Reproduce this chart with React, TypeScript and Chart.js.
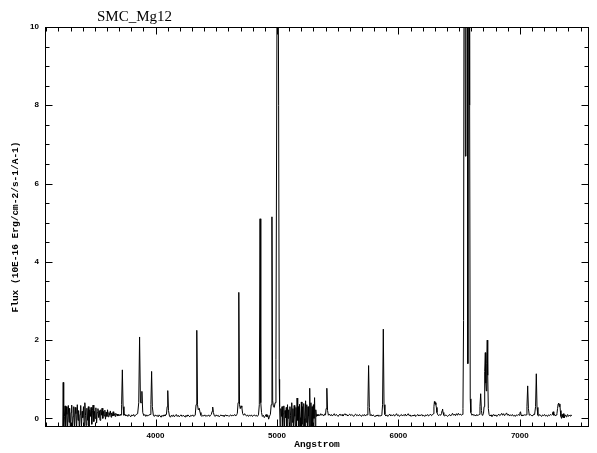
import { useEffect, useRef } from "react";
import { Chart, registerables } from "chart.js";

Chart.register(...registerables);

// Labels
const plotTitle = "SMC_Mg12";
const xAxisTitle = "Angstrom";
const yAxisTitle = "Flux (10E-16 Erg/cm-2/s-1/A-1)";

// Axis ranges and tick marks
const xRange = [3090, 7570];
const yRange = [-0.22, 10];
const xMajorTicks = [4000, 5000, 6000, 7000];
const yMajorTicks = [0, 2, 4, 6, 8, 10];
const xMinorStep = 100;
const yMinorStep = 0.5;

// Spectrum, [wavelength (A), flux] pairs, blue to red
const blueNoise: [number, number][] = [
  [3236, -0.3], [3240, 0.92], [3244, -0.3], [3250, 0.05], [3255, 0.32], [3260, -0.3], [3266, 0.3],
  [3271, 0.1], [3276, -0.28], [3282, 0.33], [3288, -0.1], [3293, 0.26], [3299, -0.3], [3305, 0.15],
  [3310, 0.34], [3316, -0.25], [3322, 0.05], [3327, 0.3], [3333, -0.3], [3339, 0.28], [3345, 0.12],
  [3350, -0.3], [3356, 0.35], [3362, -0.05], [3367, 0.2], [3373, -0.3], [3379, 0.1], [3384, 0.33],
  [3390, -0.22], [3396, 0.18], [3401, 0.02], [3407, 0.3], [3413, -0.25], [3418, 0.4], [3424, 0.08],
  [3430, -0.18], [3435, 0.26], [3441, -0.05], [3447, 0.3], [3452, -0.3], [3458, 0.22], [3464, 0.05],
  [3469, 0.28], [3475, -0.15], [3481, 0.2], [3486, 0.34], [3492, -0.08], [3498, 0.18], [3503, 0.0],
  [3509, 0.27], [3515, -0.12], [3520, 0.15], [3526, 0.25], [3532, 0.02], [3537, 0.2], [3543, -0.05],
  [3549, 0.22], [3554, 0.08], [3560, 0.26], [3566, 0.0], [3571, 0.18], [3577, 0.06], [3583, 0.21],
  [3588, -0.02], [3594, 0.16], [3600, 0.05], [3605, 0.22], [3611, 0.04], [3617, 0.15], [3622, 0.08],
  [3628, 0.19], [3634, 0.03], [3639, 0.14], [3645, 0.06], [3651, 0.17], [3656, 0.07], [3662, 0.12],
  [3668, 0.05], [3673, 0.13], [3679, 0.08], [3685, 0.11], [3690, 0.06], [3696, 0.1], [3702, 0.07],
  [3708, 0.1], [3713, 0.08],
];

const violetLines: [number, number][] = [
  [3716, 0.09], [3721, 0.35], [3727, 1.24], [3733, 0.3], [3740, 0.08], [3748, 0.11], [3756, 0.06],
  [3764, 0.09], [3772, 0.05], [3780, 0.1], [3788, 0.07], [3796, 0.04], [3804, 0.09], [3812, 0.06],
  [3820, 0.1], [3828, 0.05], [3836, 0.08], [3845, 0.11], [3853, 0.12], [3862, 0.4], [3869, 2.08],
  [3876, 0.4], [3881, 0.4], [3888, 0.69], [3895, 0.15], [3904, 0.07], [3912, 0.1], [3920, 0.05],
  [3928, 0.09], [3936, 0.06], [3944, 0.08], [3955, 0.1], [3962, 0.35], [3968, 1.2], [3974, 0.3],
  [3982, 0.08], [3990, 0.05], [3998, 0.09], [4006, 0.06],
];

const blueLines: [number, number][] = [
  [4014, 0.08], [4022, 0.04], [4030, 0.09], [4038, 0.06], [4046, 0.03], [4054, 0.08], [4062, 0.05],
  [4070, 0.09], [4078, 0.06], [4084, 0.1], [4090, 0.1], [4096, 0.3], [4101, 0.71], [4107, 0.2],
  [4115, 0.06], [4123, 0.03], [4131, 0.08], [4139, 0.05], [4147, 0.09], [4155, 0.04], [4163, 0.07],
  [4171, 0.1], [4179, 0.05], [4187, 0.08], [4195, 0.04], [4203, 0.07], [4211, 0.09], [4219, 0.05],
  [4227, 0.08], [4235, 0.06], [4243, 0.04], [4251, 0.08], [4259, 0.05], [4267, 0.09], [4275, 0.06],
  [4283, 0.04], [4291, 0.08], [4299, 0.06], [4307, 0.09], [4315, 0.05], [4321, 0.07], [4327, 0.08],
  [4334, 0.35], [4340, 2.25], [4346, 0.35], [4352, 0.22], [4360, 0.26], [4367, 0.15], [4374, 0.08],
  [4382, 0.05], [4390, 0.08], [4398, 0.06], [4406, 0.09], [4414, 0.05], [4422, 0.07], [4430, 0.06],
  [4438, 0.09], [4446, 0.05], [4453, 0.08], [4460, 0.1], [4466, 0.18], [4471, 0.29], [4477, 0.15],
  [4484, 0.07], [4492, 0.05], [4500, 0.09], [4508, 0.06], [4516, 0.08], [4524, 0.04], [4532, 0.07],
  [4540, 0.09], [4548, 0.06], [4556, 0.08], [4564, 0.05], [4572, 0.07], [4580, 0.09], [4588, 0.06],
  [4596, 0.08], [4604, 0.05], [4612, 0.07], [4620, 0.09], [4628, 0.06], [4636, 0.08], [4644, 0.07],
  [4652, 0.1], [4660, 0.06], [4668, 0.09], [4674, 0.13], [4680, 0.4], [4686, 3.22], [4692, 0.35],
  [4698, 0.25], [4705, 0.32], [4711, 0.28], [4718, 0.12],
];

const greenLines: [number, number][] = [
  [4726, 0.08], [4734, 0.12], [4742, 0.08], [4750, 0.06], [4758, 0.09], [4766, 0.05], [4774, 0.08],
  [4782, 0.06], [4790, 0.09], [4798, 0.05], [4806, 0.07], [4814, 0.09], [4822, 0.06], [4830, 0.08],
  [4838, 0.05], [4848, 0.09], [4855, 0.35], [4861, 5.1], [4867, 0.4], [4873, 0.15], [4880, 0.05],
  [4888, 0.08], [4896, 0.02], [4904, 0.06], [4911, 0.1], [4918, 0.04], [4925, 0.08], [4932, -0.02],
  [4939, 0.06], [4946, 0.1], [4953, 0.35], [4959, 5.15], [4965, 0.45], [4971, 0.3], [4978, 0.28],
  [4985, 0.4], [4992, 1.5], [5000, 10.0], [5007, 15.0], [5014, 8.0], [5019, 1.0], [5022, 0.3],
];

const greenNoise: [number, number][] = [
  [5027, -0.3], [5032, 0.25], [5037, 0.05], [5042, 0.3], [5047, -0.25], [5052, 0.12], [5057, 0.32],
  [5062, -0.3], [5067, 0.2], [5072, 0.02], [5077, 0.28], [5082, -0.3], [5087, 0.35], [5092, 0.0],
  [5097, 0.22], [5102, -0.28], [5107, 0.3], [5112, 0.08], [5117, -0.3], [5122, 0.4], [5127, -0.1],
  [5132, 0.25], [5137, -0.3], [5142, 0.33], [5147, 0.05], [5152, -0.22], [5157, 0.28], [5162, -0.3],
  [5166, 0.52], [5171, -0.05], [5176, 0.3], [5181, -0.3], [5186, 0.36], [5191, 0.02], [5196, -0.3],
  [5201, 0.42], [5206, -0.15], [5211, 0.3], [5216, -0.3], [5221, 0.38], [5226, 0.0], [5231, -0.3],
  [5236, 0.45], [5241, -0.1], [5246, 0.35], [5251, -0.3], [5256, 0.3], [5261, 0.05], [5266, -0.3],
  [5270, 0.77], [5275, -0.3], [5280, 0.4], [5285, -0.2], [5290, 0.3], [5295, -0.3], [5300, 0.35],
  [5305, 0.0], [5310, 0.53], [5315, -0.3], [5320, 0.22], [5325, 0.05], [5330, 0.1],
];

const yellowLines: [number, number][] = [
  [5337, 0.06], [5345, 0.1], [5353, 0.07], [5361, 0.12], [5369, 0.08], [5377, 0.1], [5385, 0.06],
  [5393, 0.11], [5400, 0.09], [5405, 0.25], [5411, 0.77], [5417, 0.2], [5424, 0.08], [5432, 0.11],
  [5440, 0.07], [5448, 0.1], [5456, 0.06], [5464, 0.09], [5472, 0.12], [5480, 0.07], [5488, 0.1],
  [5496, 0.08], [5504, 0.05], [5512, 0.09], [5520, 0.11], [5528, 0.07], [5536, 0.1], [5544, 0.06],
  [5552, 0.09], [5560, 0.12], [5568, 0.08], [5576, 0.1], [5584, 0.06], [5592, 0.09], [5600, 0.11],
  [5608, 0.07], [5616, 0.1], [5624, 0.08], [5632, 0.05], [5640, 0.09], [5648, 0.11], [5656, 0.07],
  [5664, 0.09], [5672, 0.06], [5680, 0.1], [5688, 0.08], [5696, 0.05], [5704, 0.09], [5712, 0.07],
  [5720, 0.1], [5728, 0.06], [5735, 0.09], [5742, 0.09], [5749, 0.3], [5755, 1.35], [5761, 0.28],
  [5768, 0.07], [5776, 0.1], [5784, 0.06], [5792, 0.09], [5800, 0.07], [5808, 0.04], [5816, 0.08],
  [5824, 0.06], [5832, 0.09], [5840, 0.05], [5848, 0.08], [5856, 0.06], [5864, 0.08], [5870, 0.35],
  [5876, 2.28], [5882, 0.35], [5889, 0.1], [5897, 0.06], [5905, 0.09], [5913, 0.05], [5921, 0.08],
  [5929, 0.11], [5937, 0.06], [5945, 0.09], [5953, 0.07], [5961, 0.1], [5969, 0.06], [5977, 0.08],
  [5985, 0.12], [5993, 0.07], [6001, 0.09], [6009, 0.05], [6017, 0.08], [6025, 0.1], [6033, 0.06],
  [6041, 0.09], [6049, 0.07], [6057, 0.11], [6065, 0.06], [6073, 0.09], [6081, 0.12], [6089, 0.07],
  [6097, 0.09], [6105, 0.05], [6113, 0.08], [6121, 0.06], [6129, 0.09], [6137, 0.07], [6145, 0.05],
  [6153, 0.08], [6161, 0.1], [6169, 0.06], [6177, 0.09], [6185, 0.07], [6193, 0.1], [6201, 0.06],
  [6209, 0.08], [6217, 0.05], [6225, 0.09], [6233, 0.07], [6241, 0.1], [6249, 0.06], [6257, 0.08],
  [6265, 0.11], [6273, 0.07], [6281, 0.09], [6288, 0.12], [6293, 0.3], [6297, 0.43], [6301, 0.38],
  [6305, 0.4], [6309, 0.35], [6313, 0.28], [6318, 0.15], [6325, 0.09], [6333, 0.07], [6341, 0.1],
  [6349, 0.08], [6355, 0.12], [6360, 0.2], [6364, 0.24], [6368, 0.15], [6374, 0.08], [6382, 0.06],
  [6390, 0.09], [6398, 0.07], [6406, 0.05], [6414, 0.08], [6422, 0.1], [6430, 0.06], [6438, 0.09],
  [6446, 0.13], [6454, 0.08], [6462, 0.11], [6470, 0.07], [6478, 0.12], [6486, 0.08], [6494, 0.13],
  [6502, 0.09], [6510, 0.11], [6518, 0.08],
];

const hAlphaBlend: [number, number][] = [
  [6526, 0.1], [6532, 0.25], [6537, 2.5], [6541, 12.0], [6546, 15.0], [6552, 6.7], [6557, 15.0],
  [6562, 22.0], [6567, 14.0], [6572, 1.4], [6577, 14.0], [6582, 18.0], [6587, 8.0], [6592, 0.5],
  [6597, 0.15],
];

const redLines: [number, number][] = [
  [6606, 0.08], [6614, 0.11], [6622, 0.07], [6630, 0.09], [6638, 0.06], [6646, 0.1], [6654, 0.07],
  [6660, 0.09], [6666, 0.1], [6672, 0.3], [6678, 0.63], [6684, 0.2], [6690, 0.08], [6696, 0.09],
  [6701, 0.12], [6706, 0.3], [6711, 1.2], [6716, 1.68], [6720, 0.9], [6724, 0.7], [6728, 1.4],
  [6732, 2.0], [6736, 1.1], [6741, 0.25], [6747, 0.1], [6755, 0.06], [6763, 0.09], [6771, 0.05],
  [6779, 0.08], [6787, 0.1], [6795, 0.06], [6803, 0.09], [6811, 0.05], [6819, 0.08], [6827, 0.11],
  [6835, 0.07], [6843, 0.09], [6851, 0.13], [6859, 0.08], [6867, 0.12], [6875, 0.07], [6883, 0.1],
  [6891, 0.14], [6899, 0.08], [6907, 0.11], [6915, 0.06], [6923, 0.09], [6931, 0.07], [6939, 0.1],
  [6947, 0.06], [6955, 0.08], [6963, 0.05], [6971, 0.09], [6979, 0.07], [6987, 0.1], [6995, 0.08],
  [7001, 0.14], [7006, 0.17], [7011, 0.09], [7018, 0.06], [7026, 0.09], [7034, 0.07], [7042, 0.1],
  [7047, 0.08], [7052, 0.09], [7059, 0.3], [7065, 0.83], [7071, 0.25], [7078, 0.08], [7086, 0.1],
  [7094, 0.08], [7102, 0.06], [7110, 0.09], [7116, 0.11], [7122, 0.1], [7130, 0.3], [7136, 1.14],
  [7142, 0.28], [7149, 0.08], [7156, 0.06], [7164, 0.1], [7172, 0.07], [7180, 0.05], [7188, 0.09],
  [7196, 0.07], [7204, 0.1], [7212, 0.06], [7220, 0.08], [7228, 0.05], [7236, 0.09], [7244, 0.07],
  [7252, 0.1], [7260, 0.08], [7266, 0.1], [7270, 0.14], [7275, 0.17], [7280, 0.08], [7287, 0.1],
  [7294, 0.06], [7300, 0.09], [7306, 0.12], [7311, 0.25], [7316, 0.37], [7320, 0.39], [7325, 0.3],
  [7330, 0.37], [7334, 0.2], [7339, 0.05], [7344, 0.0], [7349, 0.1], [7354, 0.03], [7359, 0.12],
  [7364, 0.01], [7370, 0.06], [7376, 0.09], [7382, 0.04], [7388, 0.07], [7394, 0.1], [7400, 0.05],
  [7407, 0.08], [7414, 0.06], [7421, 0.09], [7428, 0.07],
];

const spectrumSegments = [
  blueNoise, violetLines, blueLines, greenLines, greenNoise, yellowLines, hAlphaBlend, redLines,
];

const ink = "#000000";
const tickFont = { family: "'Liberation Sans', Arial, sans-serif", size: 8, weight: "bold" as const };
const axisTitleFont = {
  family: "'Liberation Mono', 'DejaVu Sans Mono', monospace",
  size: 9.5,
  weight: "bold" as const,
};

// Plot box with inward major/minor tick marks on all four sides, plus the title
const framePlugin = {
  id: "frame",
  afterDatasetsDraw(chart: Chart) {
    const { ctx, chartArea } = chart;
    const xs = chart.scales.x;
    const ys = chart.scales.y;
    const left = Math.round(chartArea.left) + 0.5;
    const right = Math.round(chartArea.right) - 0.5;
    const top = Math.round(chartArea.top) + 0.5;
    const bottom = Math.round(chartArea.bottom) - 0.5;
    ctx.save();
    ctx.strokeStyle = ink;
    ctx.lineWidth = 1;
    ctx.strokeRect(left, top, right - left, bottom - top);
    ctx.beginPath();
    const firstX = Math.ceil(xRange[0] / xMinorStep) * xMinorStep;
    for (let v = firstX; v <= xRange[1]; v += xMinorStep) {
      const len = xMajorTicks.includes(v) ? 7 : 4;
      const px = Math.round(xs.getPixelForValue(v)) + 0.5;
      ctx.moveTo(px, bottom);
      ctx.lineTo(px, bottom - len);
      ctx.moveTo(px, top);
      ctx.lineTo(px, top + len);
    }
    for (let v = 0; v <= yRange[1] + 1e-9; v += yMinorStep) {
      const len = yMajorTicks.includes(v) ? 7 : 4;
      const py = Math.round(ys.getPixelForValue(v)) + 0.5;
      ctx.moveTo(left, py);
      ctx.lineTo(left + len, py);
      ctx.moveTo(right, py);
      ctx.lineTo(right - len, py);
    }
    ctx.stroke();

    ctx.fillStyle = ink;
    ctx.font = "15px 'Liberation Serif', 'Times New Roman', serif";
    ctx.textAlign = "left";
    ctx.textBaseline = "alphabetic";
    ctx.fillText(plotTitle, 97, 21);
    ctx.restore();
  },
};

export default function App() {
  const canvasRef = useRef<HTMLCanvasElement>(null);

  useEffect(() => {
    const canvas = canvasRef.current;
    if (!canvas) return;
    const points = spectrumSegments.flat().map(([x, y]) => ({ x, y }));

    const chart = new Chart(canvas, {
      type: "line",
      data: {
        datasets: [
          {
            data: points,
            borderColor: ink,
            borderWidth: 1,
            pointRadius: 0,
            tension: 0,
            fill: false,
            clip: 0,
          },
        ],
      },
      options: {
        animation: false,
        responsive: false,
        devicePixelRatio: 1,
        events: [],
        layout: { padding: { top: 27, right: 8, left: 0, bottom: 0 } },
        plugins: {
          legend: { display: false },
          tooltip: { enabled: false },
          title: { display: false },
        },
        scales: {
          x: {
            type: "linear",
            min: xRange[0],
            max: xRange[1],
            grid: { display: false, drawTicks: false },
            border: { display: false },
            afterBuildTicks: (scale: any) => {
              scale.ticks = xMajorTicks.map((value) => ({ value }));
            },
            afterFit: (scale: any) => {
              scale.height = 26;
            },
            ticks: {
              color: ink,
              font: tickFont,
              padding: 4,
              maxRotation: 0,
              autoSkip: false,
              callback: (v: any) => String(v),
            },
            title: {
              display: true,
              text: xAxisTitle,
              color: ink,
              font: axisTitleFont,
              padding: { top: 0, bottom: 3 },
            },
          },
          y: {
            type: "linear",
            min: yRange[0],
            max: yRange[1],
            grid: { display: false, drawTicks: false },
            border: { display: false },
            afterBuildTicks: (scale: any) => {
              scale.ticks = yMajorTicks.map((value) => ({ value }));
            },
            afterFit: (scale: any) => {
              scale.width = 45;
            },
            ticks: {
              color: ink,
              font: tickFont,
              padding: 6,
              autoSkip: false,
              callback: (v: any) => String(v),
            },
            title: {
              display: true,
              text: yAxisTitle,
              color: ink,
              font: axisTitleFont,
              padding: { top: 10, bottom: 0 },
            },
          },
        },
      },
      plugins: [framePlugin],
    });

    return () => chart.destroy();
  }, []);

  return (
    <div style={{ position: "absolute", left: 0, top: 0, width: 597, height: 453, background: "#fff" }}>
      <canvas ref={canvasRef} width={597} height={453} style={{ display: "block" }} />
    </div>
  );
}
